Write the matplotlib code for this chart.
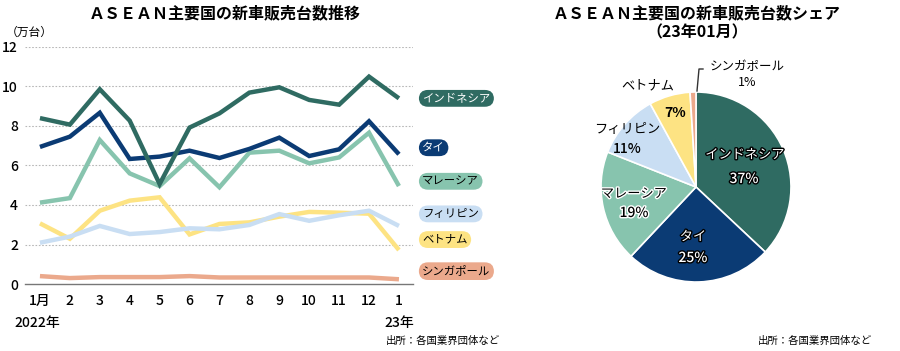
import matplotlib.pyplot as plt
import matplotlib.patheffects as pe

plt.rcParams['font.family'] = ['Noto Sans CJK JP', 'DejaVu Sans']

months = ["1月", "2", "3", "4", "5", "6", "7", "8", "9", "10", "11", "12", "1"]
countries = ["インドネシア", "タイ", "マレーシア", "フィリピン", "ベトナム", "シンガポール"]

indonesia = [8.4, 8.07, 9.86, 8.27, 5.06, 7.92, 8.64, 9.69, 9.96, 9.32, 9.08, 10.5, 9.4]
thai = [6.94, 7.46, 8.67, 6.33, 6.45, 6.75, 6.38, 6.84, 7.41, 6.48, 6.82, 8.24, 6.57]
malaysia = [4.12, 4.35, 7.29, 5.6, 4.96, 6.36, 4.9, 6.65, 6.75, 6.11, 6.41, 7.66, 4.96]
philippines = [2.09, 2.4, 2.94, 2.53, 2.63, 2.82, 2.77, 2.99, 3.54, 3.2, 3.48, 3.71, 2.94]
vietnam = [3.07, 2.29, 3.71, 4.22, 4.39, 2.51, 3.04, 3.12, 3.41, 3.65, 3.61, 3.56, 1.72]
singapore = [0.4, 0.3, 0.35, 0.35, 0.35, 0.4, 0.33, 0.33, 0.33, 0.33, 0.33, 0.33, 0.24]

share = [37, 25, 19, 11, 7, 1]

colors = ["#2f6b62", "#0b3b74", "#87c4ae", "#c9def3", "#fde383", "#eba98c"]
label_y = [9.4, 6.9, 5.2, 3.55, 2.25, 0.65]

fig = plt.figure(figsize=(9, 3.51), dpi=100)

# ---- line chart ----
ax = fig.add_axes([25 / 900, 67 / 351, 388 / 900, 237 / 351])
x = list(range(len(months)))
series = [indonesia, thai, malaysia, philippines, vietnam, singapore]
for s, c in reversed(list(zip(series, colors))):
    ax.plot(x, s, color=c, lw=3.2, solid_joinstyle="miter", solid_capstyle="butt", clip_on=False)

ax.set_xlim(-0.5, 12.47)
ax.set_ylim(0, 12)
ax.set_yticks(range(0, 13, 2))
ax.set_xticks(x)
ax.set_xticklabels(months)
for yv in range(2, 13, 2):
    ax.axhline(yv, color="#b8b8b8", lw=0.8, ls=(0, (1.5, 1.5)), zorder=0)
for sp in ["top", "right", "left"]:
    ax.spines[sp].set_visible(False)
ax.spines["bottom"].set_color("#777777")
ax.spines["bottom"].set_linewidth(1)
ax.tick_params(length=0, labelsize=10)
ax.tick_params(axis="y", pad=5)
ax.tick_params(axis="x", pad=7)
for lab in ax.get_xticklabels() + ax.get_yticklabels():
    lab.set_fontweight("medium")

ax.text(-0.1, -1.95, "2022年", fontsize=10, ha="center", va="center", fontweight="medium")
ax.text(12.0, -1.95, "23年", fontsize=10, ha="center", va="center", fontweight="medium")
ax.text(-0.05, 1.06, "（万台）", transform=ax.transAxes, fontsize=8.5, ha="left", va="center")

for name, c, ly in zip(countries, colors, label_y):
    tc = "white" if name in ("インドネシア", "タイ") else "black"
    ax.text(12.78, ly, name, fontsize=8.2, color=tc, ha="left", va="center",
            bbox=dict(boxstyle="round,pad=0.3,rounding_size=0.8", fc=c, ec="none"),
            clip_on=False)

fig.text(225 / 900, 1 - 13 / 351, "ＡＳＥＡＮ主要国の新車販売台数推移", fontsize=11.5,
         fontweight="bold", ha="center", va="center")
fig.text(500 / 900, 1 - 341 / 351, "出所：各国業界団体など", fontsize=7.5, ha="right", va="center")

# ---- pie chart ----
r = 95
pax = fig.add_axes([(696 - r) / 900, (351 - 187 - r) / 351, 2 * r / 900, 2 * r / 351])
pax.pie(share, colors=colors, startangle=90, counterclock=False,
        wedgeprops=dict(edgecolor="white", linewidth=1.2))
pax.set_aspect("auto")
pax.set_xlim(-1, 1)
pax.set_ylim(-1, 1)

outline_w = [pe.withStroke(linewidth=2, foreground="black")]
outline_b = [pe.withStroke(linewidth=2, foreground="white")]


def ftext(px, py, s, **kw):
    fig.text(px / 900, 1 - py / 351, s, ha="center", va="center", **kw)


ftext(745, 155, "インドネシア", fontsize=9.5, color="white", path_effects=outline_w)
ftext(744, 179, "37%", fontsize=10, color="white", fontweight="medium", path_effects=outline_w)
ftext(693, 237, "タイ", fontsize=9.5, color="white", path_effects=outline_w)
ftext(693, 258, "25%", fontsize=10, color="white", fontweight="medium", path_effects=outline_w)
ftext(634, 194, "マレーシア", fontsize=9.5, color="black", path_effects=outline_b)
ftext(634, 213, "19%", fontsize=10, color="black", fontweight="medium", path_effects=outline_b)
ftext(627, 130, "フィリピン", fontsize=9.5, color="black")
ftext(627, 149, "11%", fontsize=10, color="black", fontweight="medium")
ftext(648, 86, "ベトナム", fontsize=9.5, color="black")
ftext(675, 113, "7%", fontsize=10, color="black", fontweight="bold")
ftext(747, 67, "シンガポール", fontsize=9, color="black")
ftext(747, 82, "1%", fontsize=9, color="black")
fig.add_artist(plt.Line2D([703 / 900, 699 / 900, 697 / 900],
                          [1 - 69 / 351, 1 - 69 / 351, 1 - 91 / 351],
                          color="#333333", lw=1))

ftext(697, 13, "ＡＳＥＡＮ主要国の新車販売台数シェア", fontsize=11.5, fontweight="bold")
ftext(697, 32, "（23年01月）", fontsize=11.5, fontweight="bold")
fig.text(872 / 900, 1 - 341 / 351, "出所：各国業界団体など", fontsize=7.5, ha="right", va="center")

fig.savefig("out.png", dpi=100)
